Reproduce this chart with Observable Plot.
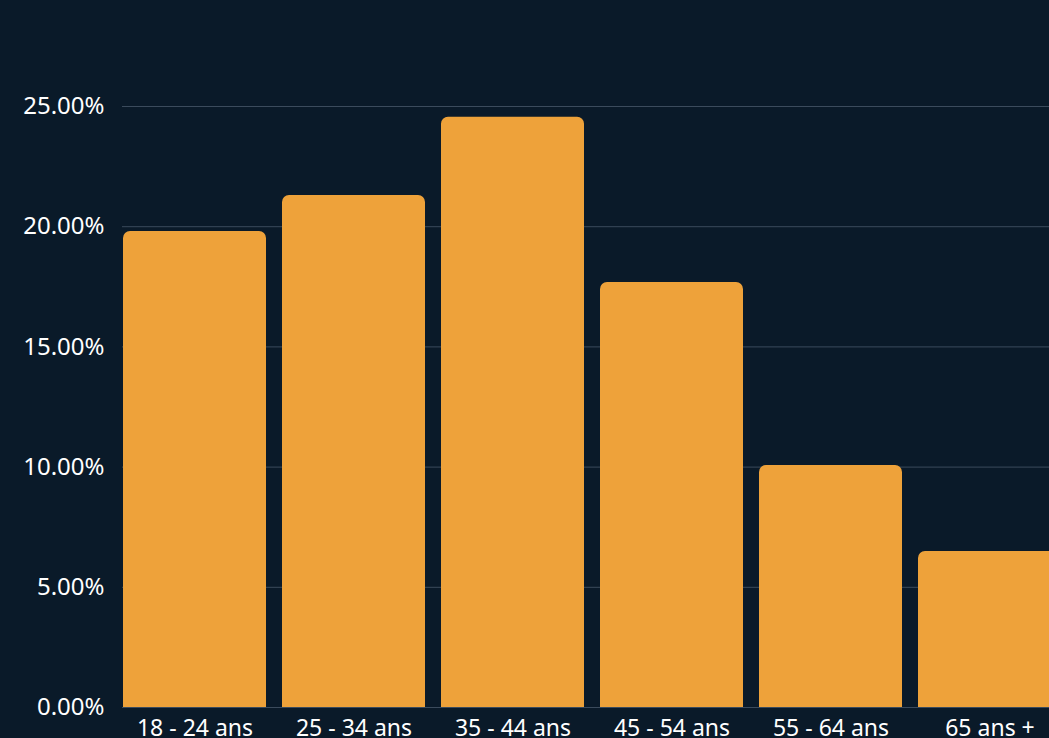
<!DOCTYPE html>
<html>
<head>
<meta charset="utf-8">
<script src="https://cdn.jsdelivr.net/npm/d3@7"></script>
<script src="https://cdn.jsdelivr.net/npm/@observablehq/plot@0.6"></script>
<style>
  html, body { margin: 0; padding: 0; background: #0a1a29; overflow: hidden; }
  #chart svg { display: block; }
  #chart svg text { fill: #ffffff; }
</style>
</head>
<body>
<div id="chart"></div>
<script>
const categories = ["18 - 24 ans", "25 - 34 ans", "35 - 44 ans", "45 - 54 ans", "55 - 64 ans", "65 ans +"];
const values = [19.80, 21.30, 24.55, 17.68, 10.07, 6.49];
const yTicks = [0, 5, 10, 15, 20, 25];

const data = categories.map((c, i) => ({category: c, value: values[i]}));

const chart = Plot.plot({
  width: 1049,
  height: 738,
  marginTop: 106,
  marginBottom: 31,
  marginLeft: 122,
  marginRight: 0,
  style: {background: "#0a1a29", color: "#ffffff", fontFamily: "'Noto Sans', 'Open Sans', sans-serif", fontSize: "23px", overflow: "hidden"},
  x: {domain: categories, range: [122, 1062], paddingInner: 0.1, paddingOuter: 0, label: null},
  y: {domain: [0, 25], label: null},
  marks: [
    Plot.gridY(yTicks, {stroke: "#3b4b5c", strokeOpacity: 1, strokeWidth: 1}),
    Plot.rectY(data, {x: "category", y: "value", fill: "#eea23a", rx1y2: 7, rx2y2: 7}),
    Plot.axisY(yTicks, {tickSize: 0, tickPadding: 0, dx: -18, tickFormat: d => d.toFixed(2) + "%", fill: "#ffffff", fontSize: 24, label: null}),
    Plot.axisX({tickSize: 0, tickPadding: 12, fill: "#ffffff", fontSize: 23, label: null})
  ]
});
document.getElementById("chart").append(chart);
</script>
</body>
</html>
